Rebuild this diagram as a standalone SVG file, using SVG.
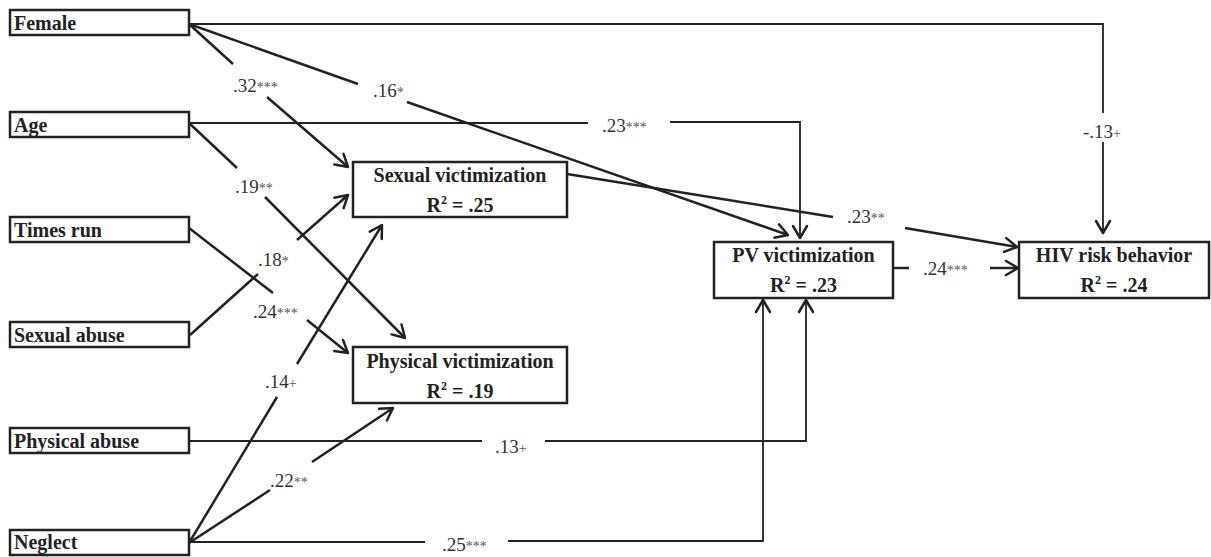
<svg xmlns="http://www.w3.org/2000/svg" width="1211" height="557" viewBox="0 0 1211 557">
<style>
.box{fill:#fff;stroke:#222;stroke-width:2.5}
.nt{font-family:"Liberation Serif","Times New Roman",serif;font-weight:bold;font-size:20px;fill:#222}
.c{fill:none;stroke:#222;stroke-width:2.5}
.h{fill:none;stroke:#222;stroke-width:1.8}
.lb{font-family:"Liberation Serif","Times New Roman",serif;font-size:19px;fill:#333}
.s{font-size:14px;fill:#555}
.sup{font-size:12px}
</style>
<defs>
<marker id="ah" markerUnits="userSpaceOnUse" viewBox="-15 -10 17 20" markerWidth="17" markerHeight="20" refX="0" refY="0" orient="auto">
<path d="M-12,-7 L0,0 L-12,7" fill="none" stroke="#222" stroke-width="2.5" stroke-linejoin="round" stroke-linecap="round"/>
</marker>
</defs>
<g id="connectors">
<path class="h" d="M189,24 H1103 V113 M1103,142 V233" marker-end="url(#ah)"/>
<path class="c" d="M189,24 L233,64 M267,97 L348,167" marker-end="url(#ah)"/>
<path class="c" d="M189,24 L358,84 M407,102 L788,235" marker-end="url(#ah)"/>
<path class="h" d="M189,123 H588 M670,122 H800 V238" marker-end="url(#ah)"/>
<path class="c" d="M189,123 L237,168 M265,197 L405,338" marker-end="url(#ah)"/>
<path class="c" d="M189,228 L273,293 M307,320 L348,353" marker-end="url(#ah)"/>
<path class="c" d="M190,335 L258,274 M297,240 L348,195" marker-end="url(#ah)"/>
<path class="c" d="M189,543 L277,397 M297,364 L382,225" marker-end="url(#ah)"/>
<path class="c" d="M189,543 L270,490 M312,462 L393,408" marker-end="url(#ah)"/>
<path class="h" d="M189,441 H482 M545,441 H806 V300" marker-end="url(#ah)"/>
<path class="h" d="M189,542 H425 M508,541 H763 V300" marker-end="url(#ah)"/>
<path class="c" d="M567,174 L833,217 M905,228 L1017,247" marker-end="url(#ah)"/>
<path class="c" d="M893,268 H909 M990,268 H1018" marker-end="url(#ah)"/>
<text class="lb" x="233" y="92">.32<tspan class="s">***</tspan></text>
<text class="lb" x="373" y="97">.16<tspan class="s">*</tspan></text>
<text class="lb" x="602" y="132">.23<tspan class="s">***</tspan></text>
<text class="lb" x="1083" y="138">-.13<tspan class="s">+</tspan></text>
<text class="lb" x="235" y="193">.19<tspan class="s">**</tspan></text>
<text class="lb" x="258" y="266">.18<tspan class="s">*</tspan></text>
<text class="lb" x="253" y="318">.24<tspan class="s">***</tspan></text>
<text class="lb" x="265" y="388">.14<tspan class="s">+</tspan></text>
<text class="lb" x="270" y="487">.22<tspan class="s">**</tspan></text>
<text class="lb" x="495" y="453">.13<tspan class="s">+</tspan></text>
<text class="lb" x="442" y="551">.25<tspan class="s">***</tspan></text>
<text class="lb" x="847" y="223">.23<tspan class="s">**</tspan></text>
<text class="lb" x="923" y="275">.24<tspan class="s">***</tspan></text>
</g>
<g id="female"><rect class="box" x="10" y="10" width="179" height="25"/><text class="nt" x="14" y="30">Female</text></g>
<g id="age"><rect class="box" x="10" y="112" width="179" height="25"/><text class="nt" x="14" y="132">Age</text></g>
<g id="times-run"><rect class="box" x="10" y="217" width="179" height="25"/><text class="nt" x="14" y="237">Times run</text></g>
<g id="sexual-abuse"><rect class="box" x="10" y="322" width="179" height="25"/><text class="nt" x="14" y="342">Sexual abuse</text></g>
<g id="physical-abuse"><rect class="box" x="10" y="428" width="179" height="25"/><text class="nt" x="14" y="448">Physical abuse</text></g>
<g id="neglect"><rect class="box" x="10" y="530" width="179" height="25"/><text class="nt" x="14" y="549">Neglect</text></g>
<g id="sexual-victimization"><rect class="box" x="353" y="162" width="214" height="55"/>
<text class="nt" x="460" y="182" text-anchor="middle">Sexual victimization</text>
<text class="nt" x="460" y="212" text-anchor="middle">R<tspan class="sup" dy="-8">2</tspan><tspan dy="8"> = .25</tspan></text></g>
<g id="physical-victimization"><rect class="box" x="353" y="347" width="214" height="56"/>
<text class="nt" x="460" y="368" text-anchor="middle">Physical victimization</text>
<text class="nt" x="460" y="398" text-anchor="middle">R<tspan class="sup" dy="-8">2</tspan><tspan dy="8"> = .19</tspan></text></g>
<g id="pv-victimization"><rect class="box" x="714" y="242" width="179" height="56"/>
<text class="nt" x="803.5" y="262" text-anchor="middle">PV victimization</text>
<text class="nt" x="803.5" y="292" text-anchor="middle">R<tspan class="sup" dy="-8">2</tspan><tspan dy="8"> = .23</tspan></text></g>
<g id="hiv-risk-behavior"><rect class="box" x="1019" y="242" width="190" height="56"/>
<text class="nt" x="1114" y="262" text-anchor="middle">HIV risk behavior</text>
<text class="nt" x="1114" y="292" text-anchor="middle">R<tspan class="sup" dy="-8">2</tspan><tspan dy="8"> = .24</tspan></text></g>
</svg>
